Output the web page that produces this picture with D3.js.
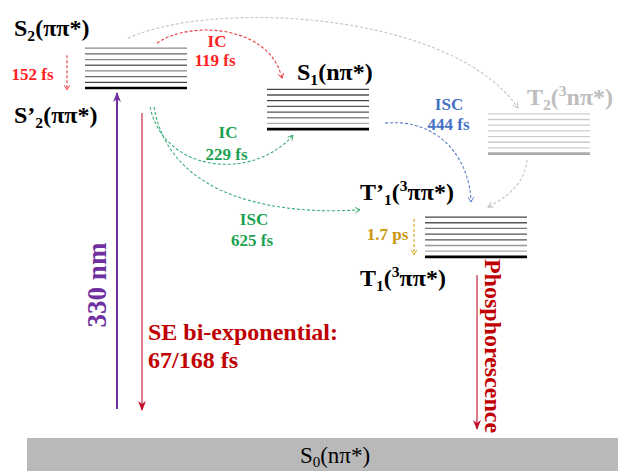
<!DOCTYPE html>
<html><head><meta charset="utf-8">
<script src="https://cdn.jsdelivr.net/npm/d3@7"></script>
<style>body{margin:0;background:#fff}svg{display:block}text{font-family:"Liberation Serif","Times New Roman",serif;font-weight:bold}</style>
</head><body><svg id="c" width="618" height="471"></svg>
<script>
// ---- data ----
const states = ["S2", "S1", "T2", "T1"];
const energies = [4.0, 3.53, 3.25, 2.07];       // bottom level energy (diagram units)
const vibLevels = 8;                               // lines per manifold
const vibSpacing = 0.065;                          // energy spacing
const groundEnergy = 0;
const transitions = [
  {from: "S2", to: "S1", kind: "IC", time: "119 fs"},
  {from: "S2", to: "S2'", kind: "", time: "152 fs"},
  {from: "S2'", to: "S1", kind: "IC", time: "229 fs"},
  {from: "S2'", to: "T1'", kind: "ISC", time: "625 fs"},
  {from: "S1", to: "T1'", kind: "ISC", time: "444 fs"},
  {from: "T1'", to: "T1", kind: "", time: "1.7 ps"},
  {from: "S2", to: "T2", kind: "", time: ""},
  {from: "T2", to: "T1'", kind: "", time: ""}
];
const excitation = "330 nm";
const seLabel = ["SE bi-exponential:", "67/168 fs"];
const emission = "Phosphorescence";

// ---- layout ----
const svg = d3.select("#c");
const y = d3.scaleLinear().domain([0, 4]).range([438, 88]);
const colX = {S2: 85, S1: 267, T2: 488, T1: 425};
const stackW = 102;
const stackColors = {
  S2: ["#8a8a8a","#666","#8a8a8a","#666","#8a8a8a","#666","#444","#000"],
  S1: ["#444","#555","#444","#555","#555","#888","#aaa","#000"],
  T1: ["#444","#555","#777","#555","#555","#999","#aaa","#000"],
  T2: ["#ccc","#ccc","#ccc","#ccc","#ccc","#ccc","#ccc","#aaa"]
};

const defs = svg.append("defs");
function marker(id, color, filled) {
  const m = defs.append("marker").attr("id", id).attr("viewBox", "0 0 10 10")
    .attr("refX", filled ? 9 : 8).attr("refY", 5).attr("orient", "auto")
    .attr("markerUnits", "userSpaceOnUse")
    .attr("markerWidth", filled ? 10 : 7).attr("markerHeight", filled ? 10 : 7);
  if (filled) m.append("path").attr("d", "M0,1 L10,5 L0,9 L3,5 Z").attr("fill", color);
  else m.append("path").attr("d", "M1,1 L8,5 L1,9").attr("fill", "none").attr("stroke", color).attr("stroke-width", 1.3);
}
marker("aRed", "#e83a3a", false);
marker("aGray", "#bbbbbb", false);
marker("aGreen", "#3aae78", false);
marker("aBlue", "#5a7fc8", false);
marker("aGold", "#d4a017", false);
marker("fPurple", "#7030a0", true);
marker("fRed", "#c0102a", true);

// ground state bar
svg.append("rect").attr("x", 27).attr("y", y(groundEnergy)).attr("width", 618 - 27)
  .attr("height", 471 - y(groundEnergy)).attr("fill", "#b9b9b9");
const g0 = svg.append("text").attr("x", 335).attr("y", 463).attr("text-anchor", "middle")
  .attr("font-size", 23).style("font-weight", "normal").attr("fill", "#000");
g0.append("tspan").text("S");
g0.append("tspan").text("0").attr("font-size", 15).attr("dy", 4);
g0.append("tspan").text("(nπ*)").attr("dy", -4);

// vibrational manifolds
states.forEach((s, i) => {
  const x0 = colX[s];
  const lv = d3.range(vibLevels).map(k => energies[i] + (vibLevels - 1 - k) * vibSpacing);
  svg.append("g").selectAll("line").data(lv).join("line")
    .attr("x1", x0).attr("x2", x0 + stackW)
    .attr("y1", d => y(d)).attr("y2", d => y(d))
    .attr("stroke", (d, k) => stackColors[s][k])
    .attr("stroke-width", (d, k) => k === vibLevels - 1 ? 2.6 : 1.3);
});
const topY = s => y(energies[states.indexOf(s)] + (vibLevels - 1) * vibSpacing);
const botY = s => y(energies[states.indexOf(s)]);

// state labels
function stateLabel(x, yy, parts, color, fs) {
  const t = svg.append("text").attr("x", x).attr("y", yy).attr("font-size", fs).attr("fill", color);
  parts.forEach(p => {
    const ts = t.append("tspan").text(p[0]);
    if (p[1] === "sub") ts.attr("font-size", fs * 0.65).attr("dy", 5);
    else if (p[1] === "sup") ts.attr("font-size", fs * 0.65).attr("dy", -9);
    else if (p[1]) ts.attr("dy", p[1]);
  });
}
stateLabel(14, 36, [["S"], ["2", "sub"], ["(ππ*)", -5]], "#000", 24);
stateLabel(14, 123, [["S’"], ["2", "sub"], ["(ππ*)", -5]], "#000", 24);
stateLabel(297, 80, [["S"], ["1", "sub"], ["(nπ*)", -5]], "#000", 24);
stateLabel(527, 105, [["T"], ["2", "sub"], ["(", -5], ["3", "sup"], ["nπ*)", 9]], "#bdbdbd", 24);
stateLabel(360, 200, [["T’"], ["1", "sub"], ["(", -5], ["3", "sup"], ["ππ*)", 9]], "#000", 24);
stateLabel(360, 286, [["T"], ["1", "sub"], ["(", -5], ["3", "sup"], ["ππ*)", 9]], "#000", 24);

// curved transitions
function curve(pts, color, mk) {
  const p = d3.path();
  p.moveTo(pts[0][0], pts[0][1]);
  p.bezierCurveTo(pts[1][0], pts[1][1], pts[2][0], pts[2][1], pts[3][0], pts[3][1]);
  svg.append("path").attr("d", p.toString()).attr("fill", "none").attr("stroke", color)
    .attr("stroke-width", 1.1).attr("stroke-dasharray", "3,2").attr("marker-end", `url(#${mk})`);
}
const s2x = colX.S2, s1x = colX.S1, t1x = colX.T1, t2x = colX.T2;
// S2 -> T2 (gray)
curve([[s2x + 43, topY("S2") - 10], [s2x + 125, 0], [t2x - 38, 10], [t2x + 30, topY("T2") - 6]], "#c4c4c4", "aGray");
// S2 -> S1 IC (red)
curve([[s2x + 72, topY("S2") - 5], [s2x + 105, 20], [s1x + 3, 25], [s1x + 15, y(energies[1] + 0.58)]], "#e83a3a", "aRed");
// S2' -> S1 IC (green)
curve([[s2x + 65, botY("S2") + 19], [s2x + 80, 175], [s1x - 12, 180], [s1x + 26, botY("S1") + 6]], "#3aae78", "aGreen");
// S2' -> T1' ISC (green)
curve([[s2x + 69, botY("S2") + 19], [s2x + 85, 200], [s2x + 195, 215], [t1x - 65, y(energies[3]) - 47]], "#3aae78", "aGreen");
// S1 -> T1' ISC (blue)
curve([[s1x + 118, botY("S1") - 6], [s1x + 173, 118], [t1x + 45, 160], [t1x + 46, topY("T1") - 15]], "#5a7fc8", "aBlue");
// T2 -> T1' (gray)
curve([[t2x + 39, botY("T2") + 6], [t2x + 37, 185], [t2x + 17, 198], [t1x + 63, topY("T1") - 10]], "#c4c4c4", "aGray");

// vertical dotted relaxations
svg.append("line").attr("x1", 67).attr("x2", 67).attr("y1", topY("S2") + 7).attr("y2", botY("S2") + 2)
  .attr("stroke", "#e83a3a").attr("stroke-width", 1.1).attr("stroke-dasharray", "3,2").attr("marker-end", "url(#aRed)");
svg.append("line").attr("x1", 414).attr("x2", 414).attr("y1", topY("T1") + 2).attr("y2", botY("T1") - 2)
  .attr("stroke", "#d4a017").attr("stroke-width", 1.1).attr("stroke-dasharray", "3,2").attr("marker-end", "url(#aGold)");

// time labels
function lbl(x, yy, txt, color, fs) {
  svg.append("text").attr("x", x).attr("y", yy).attr("text-anchor", "middle").attr("font-size", fs || 17)
    .attr("fill", color).text(txt);
}
const tr = k => transitions[k];
lbl(217, 47, tr(0).kind, "#ff2020"); lbl(215, 66, tr(0).time, "#ff2020");
lbl(32.5, 80, tr(1).time, "#ff2020");
lbl(228, 138, tr(2).kind, "#1aa050"); lbl(226.5, 160, tr(2).time, "#1aa050");
lbl(254, 225, tr(3).kind, "#1aa050"); lbl(252, 246, tr(3).time, "#1aa050");
lbl(449, 110, tr(4).kind, "#4472c4"); lbl(448.5, 130, tr(4).time, "#4472c4");
lbl(387.5, 240, tr(5).time, "#c8960a");

// excitation arrow
svg.append("line").attr("x1", 117).attr("x2", 117).attr("y1", 409).attr("y2", botY("S2") + 5)
  .attr("stroke", "#7030a0").attr("stroke-width", 2).attr("marker-end", "url(#fPurple)");
svg.append("text").attr("transform", "translate(106,285) rotate(-90)").attr("text-anchor", "middle")
  .attr("font-size", 27).attr("fill", "#7030a0").text(excitation);

// stimulated emission arrow
svg.append("line").attr("x1", 142).attr("x2", 142).attr("y1", botY("S2") + 25).attr("y2", 410)
  .attr("stroke", "#c0102a").attr("stroke-width", 1.1).attr("marker-end", "url(#fRed)");
svg.append("text").attr("x", 148).attr("y", 340).attr("font-size", 24).attr("fill", "#c00000").text(seLabel[0]);
svg.append("text").attr("x", 148).attr("y", 368).attr("font-size", 24).attr("fill", "#c00000").text(seLabel[1]);

// phosphorescence
svg.append("line").attr("x1", 477).attr("x2", 477).attr("y1", botY("T1") + 18).attr("y2", 429)
  .attr("stroke", "#c0102a").attr("stroke-width", 1.1).attr("marker-end", "url(#fRed)");
svg.append("text").attr("transform", "translate(485,346) rotate(90)").attr("text-anchor", "middle")
  .attr("font-size", 24).attr("fill", "#c00000").text(emission);
</script></body></html>
